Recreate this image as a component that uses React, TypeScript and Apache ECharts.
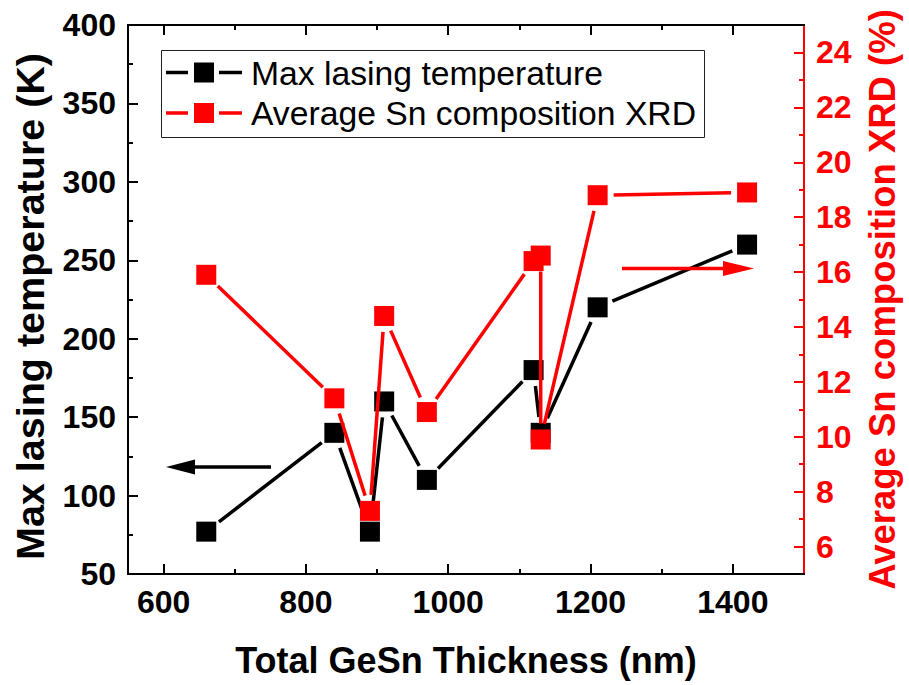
import React, { useEffect, useRef } from "react";
import * as echarts from "echarts";

// ---- data ----
const thickness = [660, 840, 890, 910, 970, 1120, 1130, 1210, 1420];
const maxLasingTemp = [77, 140, 77, 160, 110, 180, 140, 220, 260];
const snThickness = [660, 840, 890, 910, 970, 1120, 1130, 1130, 1210, 1420];
const snComposition = [15.9, 11.4, 7.3, 14.4, 10.9, 16.4, 16.6, 9.9, 18.8, 18.9];

const xLabels = [600, 800, 1000, 1200, 1400];
const xMinor = [700, 900, 1100, 1300];
const rightLabels = [6, 8, 10, 12, 14, 16, 18, 20, 22, 24];
const rightMinor = [7, 9, 11, 13, 15, 17, 19, 21, 23];

const FONT = "'Liberation Sans', Arial, Helvetica, sans-serif";
const RED = "#ff0000";
const BLACK = "#000000";
const GAP = 16;
const LW = 3.5;

const segmentsOf = (xs: number[], ys: number[]) =>
  xs.slice(1).map((x, i) => [xs[i], ys[i], x, ys[i + 1]]);

const segRender = (color: string) => (params: any, api: any) => {
  const p1 = api.coord([api.value(0), api.value(1)]);
  const p2 = api.coord([api.value(2), api.value(3)]);
  const dx = p2[0] - p1[0];
  const dy = p2[1] - p1[1];
  const len = Math.hypot(dx, dy);
  if (len <= 2 * GAP + 1) return { type: "group", children: [] };
  const ux = dx / len;
  const uy = dy / len;
  return {
    type: "line",
    shape: {
      x1: p1[0] + ux * GAP,
      y1: p1[1] + uy * GAP,
      x2: p2[0] - ux * GAP,
      y2: p2[1] - uy * GAP,
    },
    style: { stroke: color, lineWidth: LW },
  };
};

const legendRow = (y: number, color: string, label: string) => [
  { type: "line", shape: { x1: 166, y1: y, x2: 188, y2: y }, style: { stroke: color, lineWidth: LW } },
  { type: "rect", shape: { x: 194, y: y - 10, width: 20, height: 20 }, style: { fill: color } },
  { type: "line", shape: { x1: 219, y1: y, x2: 242, y2: y }, style: { stroke: color, lineWidth: LW } },
  {
    type: "text",
    x: 251,
    y: y,
    style: { text: label, fill: BLACK, font: `33.7px ${FONT}`, textVerticalAlign: "middle", textAlign: "left" },
  },
];

export default function App() {
  const ref = useRef<HTMLDivElement>(null);
  useEffect(() => {
    if (!ref.current) return;
    const chart = echarts.init(ref.current, null, { renderer: "svg" });
    const xBase = {
      type: "value",
      min: 550,
      max: 1500,
      splitLine: { show: false },
      axisLine: { show: true, lineStyle: { color: BLACK, width: 2 } },
    };
    const rightBase = {
      type: "value",
      position: "right",
      min: 5,
      max: 25,
      splitLine: { show: false },
      axisLine: { show: true, lineStyle: { color: RED, width: 2 } },
    };
    chart.setOption({
      animation: false,
      backgroundColor: "#ffffff",
      grid: { left: 128, top: 25, width: 680, height: 549, containLabel: false },
      xAxis: [
        {
          ...xBase,
          position: "bottom",
          name: "Total GeSn Thickness (nm)",
          nameLocation: "middle",
          nameGap: 68,
          nameTextStyle: { color: BLACK, fontFamily: FONT, fontWeight: "bold", fontSize: 36 },
          axisTick: { show: true, inside: true, length: 10, customValues: xLabels, lineStyle: { color: BLACK, width: 2 } },
          axisLabel: {
            show: true,
            customValues: xLabels,
            margin: 12,
            color: BLACK,
            fontFamily: FONT,
            fontWeight: "bold",
            fontSize: 32,
            formatter: (v: number) => String(v),
          },
        },
        {
          ...xBase,
          position: "bottom",
          axisTick: { show: true, inside: true, length: 5, customValues: xMinor, lineStyle: { color: BLACK, width: 2 } },
          axisLabel: { show: false },
        },
        {
          ...xBase,
          position: "top",
          axisTick: { show: true, inside: true, length: 10, customValues: xLabels, lineStyle: { color: BLACK, width: 2 } },
          axisLabel: { show: false },
        },
        {
          ...xBase,
          position: "top",
          axisTick: { show: true, inside: true, length: 5, customValues: xMinor, lineStyle: { color: BLACK, width: 2 } },
          axisLabel: { show: false },
        },
      ],
      yAxis: [
        {
          type: "value",
          position: "left",
          min: 50,
          max: 400,
          interval: 50,
          name: "Max lasing temperature (K)",
          nameLocation: "middle",
          nameGap: 78,
          nameTextStyle: {
            color: BLACK,
            fontFamily: FONT,
            fontWeight: "bold",
            fontSize: 39.5,
            padding: [0, 14, 0, 0],
          },
          splitLine: { show: false },
          axisLine: { show: true, lineStyle: { color: BLACK, width: 2 } },
          axisTick: { show: true, inside: true, length: 10, lineStyle: { color: BLACK, width: 2 } },
          minorTick: { show: true, splitNumber: 2, length: 5, lineStyle: { color: BLACK, width: 2 } },
          axisLabel: { margin: 12, color: BLACK, fontFamily: FONT, fontWeight: "bold", fontSize: 32 },
        },
        {
          ...rightBase,
          name: "Average Sn composition XRD (%)",
          nameLocation: "middle",
          nameGap: 60,
          nameTextStyle: { color: RED, fontFamily: FONT, fontWeight: "bold", fontSize: 36.5 },
          axisTick: { show: true, inside: true, length: 10, customValues: rightLabels, lineStyle: { color: RED, width: 2 } },
          axisLabel: { show: true, customValues: rightLabels, margin: 12, color: RED, fontFamily: FONT, fontWeight: "bold", fontSize: 32 },
        },
        {
          ...rightBase,
          axisTick: { show: true, inside: true, length: 5, customValues: rightMinor, lineStyle: { color: RED, width: 2 } },
          axisLabel: { show: false },
        },
      ],
      series: [
        {
          type: "custom",
          name: "Max lasing temperature lines",
          xAxisIndex: 0,
          yAxisIndex: 0,
          renderItem: segRender(BLACK),
          data: segmentsOf(thickness, maxLasingTemp),
          z: 2,
        },
        {
          type: "scatter",
          name: "Max lasing temperature",
          xAxisIndex: 0,
          yAxisIndex: 0,
          symbol: "rect",
          symbolSize: 20,
          itemStyle: { color: BLACK, opacity: 1 },
          data: thickness.map((x, i) => [x, maxLasingTemp[i]]),
          z: 3,
        },
        {
          type: "custom",
          name: "Average Sn composition XRD lines",
          xAxisIndex: 0,
          yAxisIndex: 1,
          renderItem: segRender(RED),
          data: segmentsOf(snThickness, snComposition),
          z: 4,
        },
        {
          type: "scatter",
          name: "Average Sn composition XRD",
          xAxisIndex: 0,
          yAxisIndex: 1,
          symbol: "rect",
          symbolSize: 20,
          itemStyle: { color: RED, opacity: 1 },
          data: snThickness.map((x, i) => [x, snComposition[i]]),
          z: 5,
        },
      ],
      graphic: [
        {
          type: "rect",
          shape: { x: 161.5, y: 50.5, width: 543, height: 87 },
          style: { fill: "#ffffff", stroke: "#222222", lineWidth: 1 },
          z: 10,
        },
        ...legendRow(72.5, BLACK, "Max lasing temperature").map((e) => ({ ...e, z: 11 })),
        ...legendRow(113, RED, "Average Sn composition XRD").map((e) => ({ ...e, z: 11 })),
        // left arrow (points to left axis)
        { type: "line", shape: { x1: 271, y1: 467, x2: 192, y2: 467 }, style: { stroke: BLACK, lineWidth: LW }, z: 10 },
        { type: "polygon", shape: { points: [[166, 467], [195, 459.5], [195, 474.5]] }, style: { fill: BLACK }, z: 10 },
        // right arrow (points to right axis)
        { type: "line", shape: { x1: 622, y1: 268.5, x2: 726, y2: 268.5 }, style: { stroke: RED, lineWidth: LW }, z: 10 },
        { type: "polygon", shape: { points: [[754, 268.5], [723, 261], [723, 276]] }, style: { fill: RED }, z: 10 },
      ],
    });
    return () => chart.dispose();
  }, []);
  return (
    <div
      ref={ref}
      style={{ position: "fixed", left: 0, top: 0, width: 909, height: 685, background: "#fff" }}
    />
  );
}
